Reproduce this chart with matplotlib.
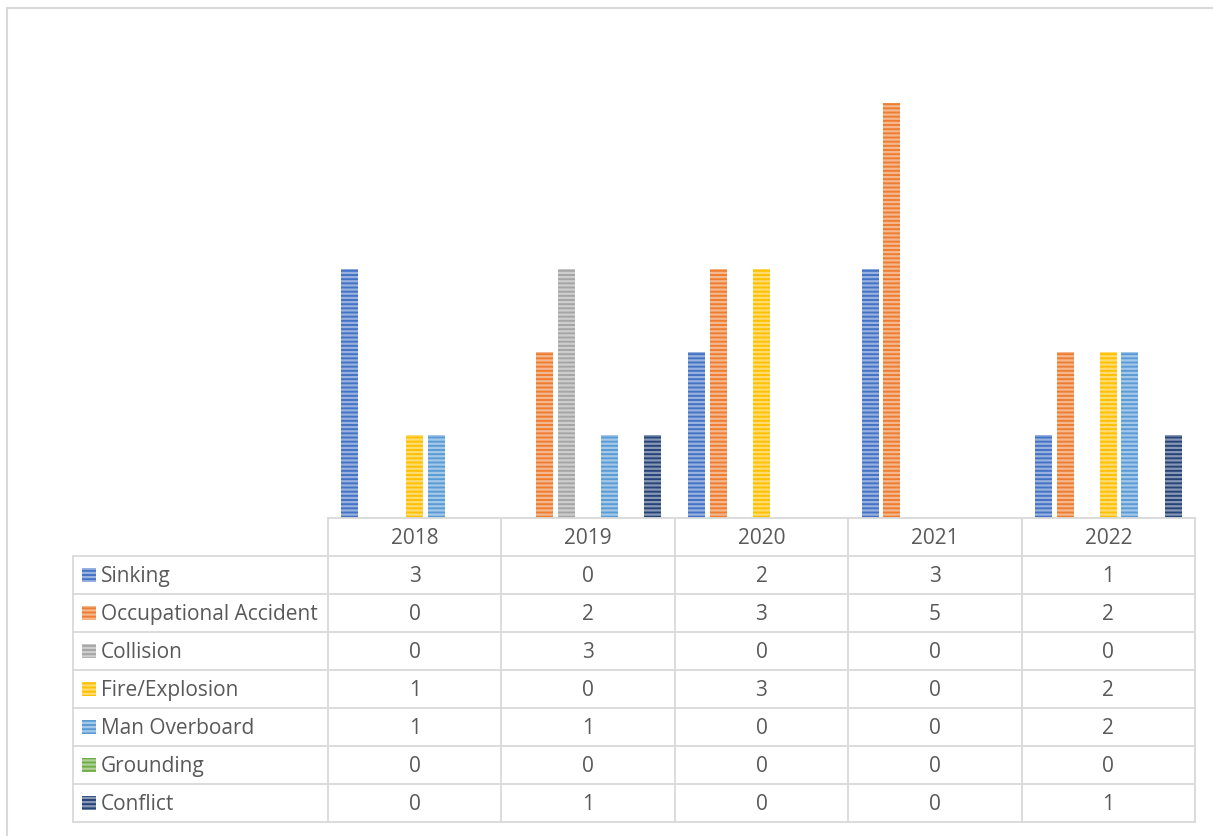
import numpy as np
import matplotlib.pyplot as plt
from matplotlib.patches import Rectangle

plt.rcParams['font.family'] = ['Open Sans', 'DejaVu Sans']
plt.rcParams['hatch.linewidth'] = 1.6

years = ['2018', '2019', '2020', '2021', '2022']
series = ['Sinking', 'Occupational Accident', 'Collision', 'Fire/Explosion',
          'Man Overboard', 'Grounding', 'Conflict']
sinking = [3, 0, 2, 3, 1]
occupational = [0, 2, 3, 5, 2]
collision = [0, 3, 0, 0, 0]
fire = [1, 0, 3, 0, 2]
man_overboard = [1, 1, 0, 0, 2]
grounding = [0, 0, 0, 0, 0]
conflict = [0, 1, 0, 0, 1]
values = [sinking, occupational, collision, fire, man_overboard, grounding, conflict]
colors = ['#4472C4', '#ED7D31', '#A5A5A5', '#FFC000', '#5B9BD5', '#70AD47', '#264478']

W, H = 1213, 836
fig = plt.figure(figsize=(W / 100, H / 100), dpi=100)

def fx(px):
    return px / W

def fy(py):
    return 1 - py / H

# plot area (pixels): x 328..1195, y 20..518
ax = fig.add_axes([fx(328), fy(518), fx(1195 - 328), (518 - 20) / H])
x = np.arange(len(years))
step = 0.1246
width = 0.098
for i, (name, vals, c) in enumerate(zip(series, values, colors)):
    ax.bar(x + (i - 3) * step, vals, width=width, color=c,
           edgecolor=(1, 1, 1, 0.45), linewidth=0, hatch='----')
ax.set_xlim(-0.5, len(years) - 0.5)
ax.set_ylim(0, 6)
ax.axis('off')

# outer chart border
line_c = '#D9D9D9'
fig.add_artist(plt.Line2D([fx(7), fx(7)], [fy(8), 0], color=line_c, lw=1.5))
fig.add_artist(plt.Line2D([fx(7), 1], [fy(8), fy(8)], color=line_c, lw=1.5))

# data table under the plot
tbl_left, col0_right, tbl_right = 73, 328, 1195
tbl_top, row_h = 518, 38.0
col_w = (tbl_right - col0_right) / len(years)
n_rows = len(series)
tbl_bottom = tbl_top + row_h * (n_rows + 1)
txt_c = '#595959'
fs = 15

def hline(y, x0, x1):
    fig.add_artist(plt.Line2D([fx(x0), fx(x1)], [fy(y), fy(y)], color=line_c, lw=1.3))

def vline(xp, y0, y1):
    fig.add_artist(plt.Line2D([fx(xp), fx(xp)], [fy(y0), fy(y1)], color=line_c, lw=1.3))

hline(tbl_top, col0_right, tbl_right)
for r in range(1, n_rows + 2):
    hline(tbl_top + r * row_h, tbl_left, tbl_right)
vline(tbl_left, tbl_top + row_h, tbl_bottom)
for k in range(len(years) + 1):
    vline(col0_right + k * col_w, tbl_top, tbl_bottom)

for k, yr in enumerate(years):
    fig.text(fx(col0_right + (k + 0.5) * col_w), fy(tbl_top + row_h / 2 + 6.5), yr,
             ha='center', va='baseline', fontsize=fs, color=txt_c)

for r, (name, vals, c) in enumerate(zip(series, values, colors)):
    yc = tbl_top + (r + 1.5) * row_h
    fig.add_artist(Rectangle((fx(82), fy(yc + 6.5)), fx(14), 14 / H, facecolor=c,
                             edgecolor=(1, 1, 1, 0.45), linewidth=0, hatch='----'))
    fig.text(fx(101), fy(yc + 7), name, ha='left', va='baseline', fontsize=fs,
             color=txt_c)
    for k, v in enumerate(vals):
        fig.text(fx(col0_right + (k + 0.5) * col_w), fy(yc + 7), str(v),
                 ha='center', va='baseline', fontsize=fs, color=txt_c)

fig.savefig('out.png', dpi=100)
